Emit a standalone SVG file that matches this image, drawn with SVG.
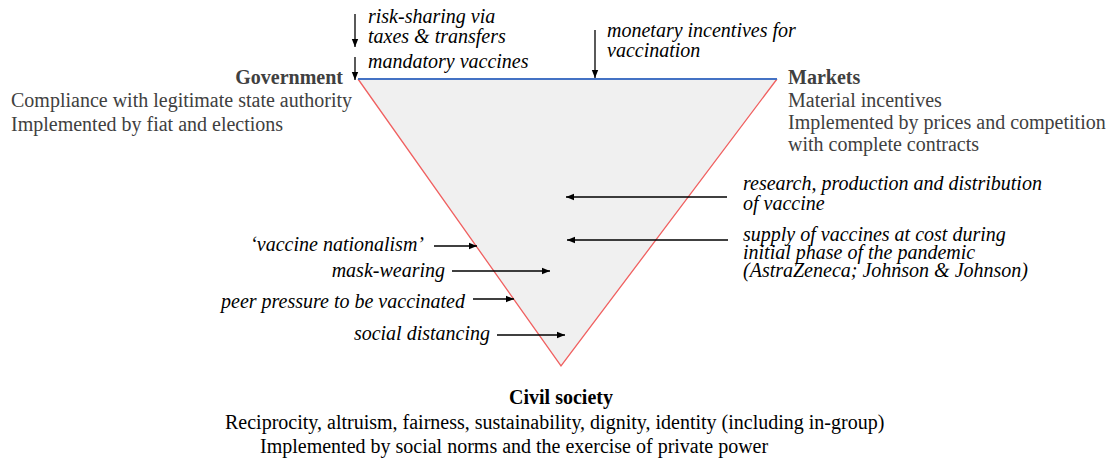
<svg xmlns="http://www.w3.org/2000/svg" width="1111" height="459" viewBox="0 0 1111 459">
<defs>
<marker id="ah" viewBox="0 0 10 10" refX="10" refY="5" markerWidth="8" markerHeight="8" markerUnits="userSpaceOnUse" orient="auto">
<path d="M0,1 L10,5 L0,9 Z" fill="#000"/>
</marker>
</defs>
<style>
text{font-family:"Liberation Serif","Times New Roman",serif;font-size:20px}
.g{fill:#404040}
.b{font-weight:bold}
.i{font-style:italic;fill:#000}
.k{fill:#000}
.arr{stroke:#000;stroke-width:1.3;fill:none;marker-end:url(#ah)}
</style>
<g id="triangle">
<path d="M358,79 L777,79 L561,366 Z" fill="#f0f0f0" stroke="none"/>
<path d="M777,79 L561,366 L358,79" fill="none" stroke="#f06060" stroke-width="1.3"/>
<line x1="358" y1="79" x2="777" y2="79" stroke="#4472c4" stroke-width="1.8"/>
</g>
<g id="government">
<text class="g b" x="343" y="84" text-anchor="end">Government</text>
<text class="g" x="11" y="107">Compliance with legitimate state authority</text>
<text class="g" x="11" y="131">Implemented by fiat and elections</text>
</g>
<g id="markets">
<text class="g b" x="788" y="84">Markets</text>
<text class="g" x="788" y="107">Material incentives</text>
<text class="g" x="788" y="129">Implemented by prices and competition</text>
<text class="g" x="788" y="151">with complete contracts</text>
</g>
<g id="civil-society">
<text class="k b" x="561" y="404" text-anchor="middle">Civil society</text>
<text class="k" x="225" y="429">Reciprocity, altruism, fairness, sustainability, dignity, identity (including in-group)</text>
<text class="k" x="260" y="453">Implemented by social norms and the exercise of private power</text>
</g>
<g id="labels">
<text class="i" x="368" y="23">risk-sharing via</text>
<text class="i" x="368" y="43">taxes &amp; transfers</text>
<text class="i" x="368" y="68">mandatory vaccines</text>
<text class="i" x="607" y="37">monetary incentives for</text>
<text class="i" x="607" y="57">vaccination</text>
<text class="i" x="743" y="190">research, production and distribution</text>
<text class="i" x="743" y="210">of vaccine</text>
<text class="i" x="743" y="241">supply of vaccines at cost during</text>
<text class="i" x="743" y="259">initial phase of the pandemic</text>
<text class="i" x="743" y="277">(AstraZeneca; Johnson &amp; Johnson)</text>
<text class="i" x="424" y="251" text-anchor="end">‘vaccine nationalism’</text>
<text class="i" x="445" y="277" text-anchor="end">mask-wearing</text>
<text class="i" x="465" y="308" text-anchor="end">peer pressure to be vaccinated</text>
<text class="i" x="490" y="340" text-anchor="end">social distancing</text>
</g>
<g id="connectors">
<line class="arr" x1="355" y1="14" x2="355" y2="47"/>
<line class="arr" x1="355" y1="57" x2="355" y2="80"/>
<line class="arr" x1="595" y1="30" x2="595" y2="78"/>
<line class="arr" x1="727" y1="197" x2="566" y2="197"/>
<line class="arr" x1="728" y1="240" x2="567" y2="240"/>
<line class="arr" x1="434" y1="246" x2="477" y2="246"/>
<line class="arr" x1="452" y1="271" x2="550" y2="271"/>
<line class="arr" x1="473" y1="299" x2="514" y2="299"/>
<line class="arr" x1="497" y1="335" x2="565" y2="335"/>
</g>
</svg>
